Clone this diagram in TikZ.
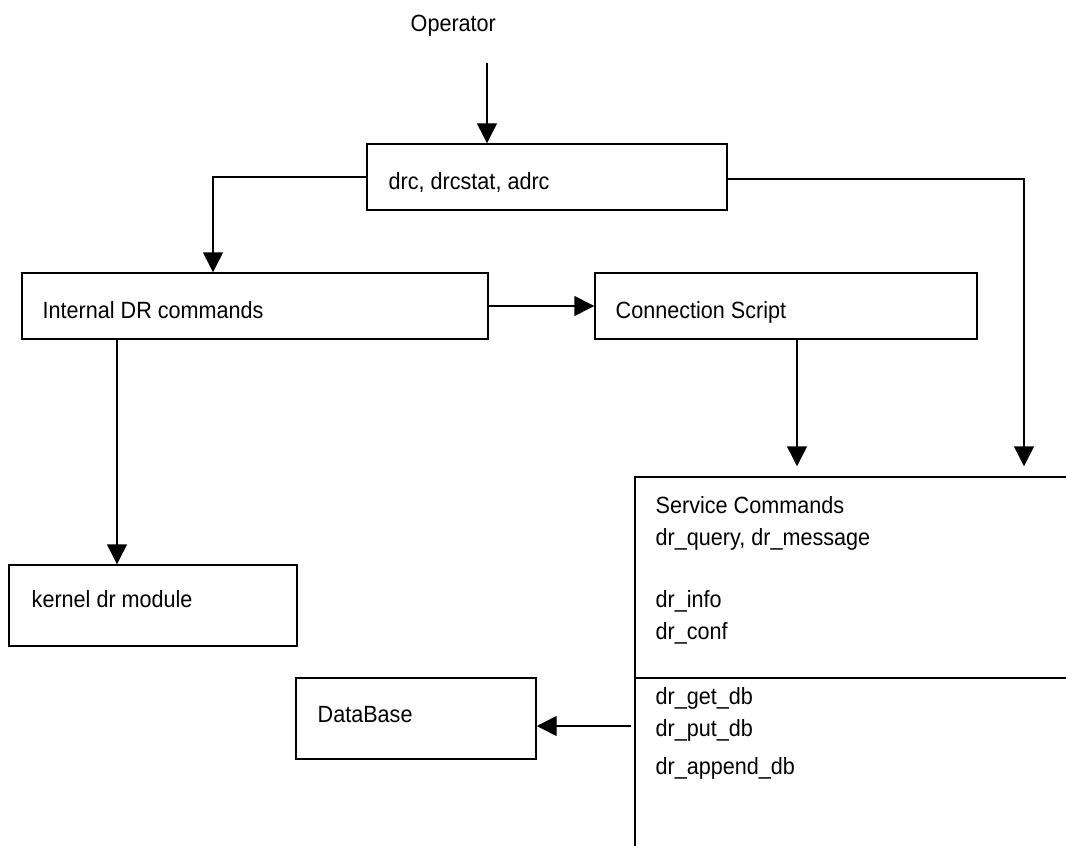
\documentclass[tikz,border=0pt]{standalone}
\usepackage{fontspec}
\setmainfont{Liberation Sans}[FakeStretch=0.92]
\usetikzlibrary{arrows.meta}

\begin{document}
\begin{tikzpicture}[x=0.75pt,y=0.75pt,line width=1.1pt,
    box/.style={draw, rectangle},
    txt/.style={anchor=base west, font=\fontsize{17.6pt}{21pt}\selectfont},
    arr/.style={-{Triangle[length=15pt,width=15pt]}}]
    \tikzstyle{every node}+=[inner sep=0pt]
    \useasboundingbox (0,0) rectangle (1066,-845);
    \clip (0,0) rectangle (1066,-845);
    % boxes
    \node [box, minimum width=270pt, minimum height=49.5pt] (ctl) at (547,-177) {};
    \node [box, minimum width=349.5pt, minimum height=49.5pt] (intcmd) at (255,-306) {};
    \node [box, minimum width=286.5pt, minimum height=49.5pt] (conn) at (786,-306) {};
    \node [box, minimum width=216pt, minimum height=60.75pt] (kernel) at (153,-605.5) {};
    \node [box, minimum width=180pt, minimum height=60.75pt] (dbase) at (416,-718.5) {};
    \node [box, minimum width=333.75pt, minimum height=287.25pt] (svc) at (857.5,-668.5) {};
    \coordinate (divl) at (635,-678);
    \draw (divl) -- (divl -| svc.east);
    % texts
    \node [txt] (optxt) at (410,-32) {Operator};
    \node [txt] (ctltxt) at (388,-190) {drc, drcstat, adrc};
    \node [txt] (inttxt) at (42,-318) {Internal DR commands};
    \node [txt] (conntxt) at (615,-318) {Connection Script};
    \node [txt] (kertxt) at (31,-607) {kernel dr module};
    \node [txt] (dbtxt) at (317,-722) {DataBase};
    \node [txt] (svc1) at (655,-513) {Service Commands};
    \node [txt] (svc2) at (655,-545) {dr\_query, dr\_message};
    \node [txt] (svc3) at (655,-607) {dr\_info};
    \node [txt] (svc4) at (655,-639) {dr\_conf};
    \node [txt] (svc5) at (655,-704) {dr\_get\_db};
    \node [txt] (svc6) at (655,-736) {dr\_put\_db};
    \node [txt] (svc7) at (655,-774) {dr\_append\_db};
    % connectors
    \coordinate (opfoot) at (487,-63);
    \draw [arr] (opfoot) -- (opfoot |- ctl.north);
    \coordinate (ltee) at (213,-177);
    \draw [arr] (ctl.west) -- (ltee) -- (ltee |- intcmd.north);
    \coordinate (rtee) at (1024,-179);
    \draw [arr, shorten >=7.5pt] (ctl.east |- rtee) -- (rtee) -- (rtee |- svc.north);
    \draw [arr] (intcmd.east) -- (conn.west);
    \coordinate (cfoot) at (797,-339);
    \draw [arr, shorten >=7.5pt] (cfoot) -- (cfoot |- svc.north);
    \coordinate (ifoot) at (117,-339);
    \draw [arr] (ifoot) -- (ifoot |- kernel.north);
    \coordinate (dstart) at (631,-726);
    \draw [arr] (dstart) -- (dstart -| dbase.east);
\end{tikzpicture}
\end{document}
